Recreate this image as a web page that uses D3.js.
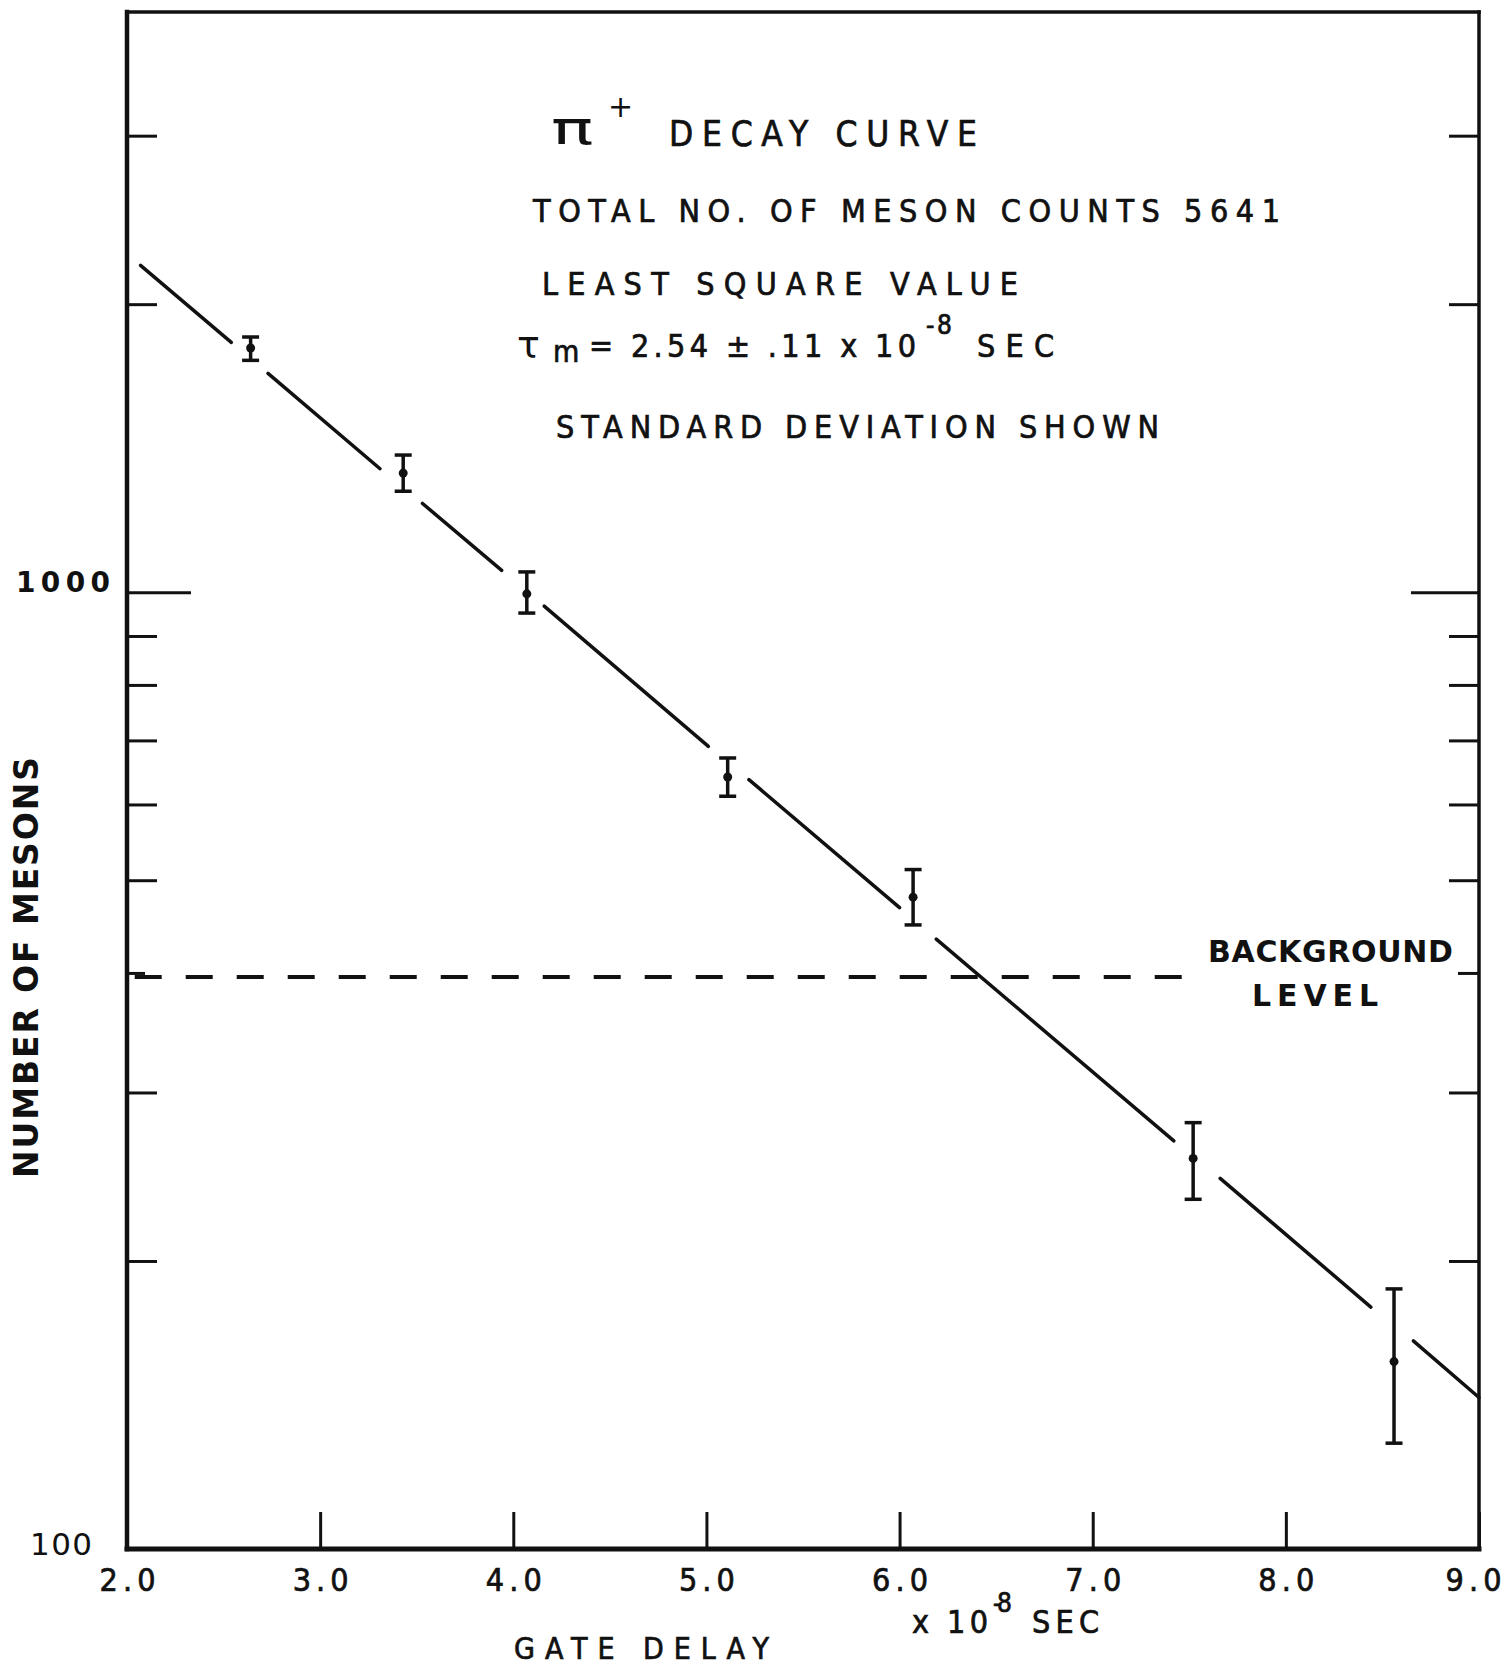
<!DOCTYPE html>
<html>
<head>
<meta charset="UTF-8">
<title>π+ decay curve</title>
<script src="https://cdn.jsdelivr.net/npm/d3@7"></script>
<style>
  body { margin: 0; background: #fff; }
</style>
</head>
<body>
<script>
    // gate delay (x 10^-8 sec) and meson counts
    var gateDelay = [2.64, 3.43, 4.07, 5.11, 6.07, 7.52, 8.56];
    var mesonCounts = [1800, 1332, 996, 641, 480, 256, 157];
    var countLow = [1747, 1275, 951, 612, 449, 232, 129];
    var countHigh = [1848, 1391, 1050, 671, 513, 279, 187];

    // least square line, broken around every point
    var fitDelay = [[2.07, 2.54], [2.73, 3.31], [3.53, 3.94], [4.16, 5.01], [5.22, 6.00], [6.19, 7.42], [7.66, 8.44], [8.66, 9.0]];
    var fitCount = [[2196, 1824], [1693, 1346], [1238, 1054], [967, 690], [637, 468], [434, 267], [244, 179], [165, 144]];

    var backgroundLevel = 396;
    var backgroundDelay = [2.04, 7.55];

    var xTicks = [2, 3, 4, 5, 6, 7, 8, 9];
    var yTicks = [200, 300, 400, 500, 600, 700, 800, 900, 1000, 2000, 3000];

    var width = 1505,
        height = 1668,
        ink = "#111",
        letterFont = '"Liberation Sans Narrow", "DejaVu Sans Condensed", "Liberation Sans", sans-serif',
        roundFont = '"DejaVu Sans", sans-serif';

    var svg = d3.select("body").append("svg")
        .attr("width", width)
        .attr("height", height);

    svg.append("rect").attr("width", width).attr("height", height).style("fill", "#fff");

    var x = d3.scaleLinear().domain([2, 9]).range([127, 1479]);
    var y = d3.scaleLog().domain([100, 4040]).range([1549, 12]);

    // frame
    var frame = svg.append("g").style("stroke", ink).style("stroke-linecap", "square");
    frame.append("line").attr("x1", x(2)).attr("x2", x(2)).attr("y1", y.range()[1]).attr("y2", y(100)).style("stroke-width", 4.5);
    frame.append("line").attr("x1", x(2)).attr("x2", x(9)).attr("y1", y(100)).attr("y2", y(100)).style("stroke-width", 5);
    frame.append("line").attr("x1", x(9)).attr("x2", x(9)).attr("y1", y.range()[1]).attr("y2", y(100)).style("stroke-width", 3.5);
    frame.append("line").attr("x1", x(2)).attr("x2", x(9)).attr("y1", y.range()[1]).attr("y2", y.range()[1]).style("stroke-width", 3.5);

    function tickLen(d, side) {
        if (d === 1000) return side === "left" ? 64 : 68;
        if (d === 400) return side === "left" ? 18 : 21;
        return 30;
    }

    // y ticks, both sides, pointing inward
    var leftAxis = svg.append("g")
        .attr("transform", "translate(" + x(2) + ",0)")
        .call(d3.axisLeft(y).tickValues(yTicks).tickSize(-30).tickFormat(""));
    leftAxis.select(".domain").remove();
    leftAxis.selectAll(".tick line")
        .attr("x2", function(d) { return tickLen(d, "left"); })
        .style("stroke", ink).style("stroke-width", 3);

    var rightAxis = svg.append("g")
        .attr("transform", "translate(" + x(9) + ",0)")
        .call(d3.axisRight(y).tickValues(yTicks).tickSize(-30).tickFormat(""));
    rightAxis.select(".domain").remove();
    rightAxis.selectAll(".tick line")
        .attr("x2", function(d) { return -tickLen(d, "right"); })
        .style("stroke", ink).style("stroke-width", 3);

    // x ticks
    var bottomAxis = svg.append("g")
        .attr("transform", "translate(0," + y(100) + ")")
        .call(d3.axisBottom(x).tickValues(xTicks).tickSize(-37).tickPadding(19).tickFormat(d3.format(".1f")));
    bottomAxis.select(".domain").remove();
    bottomAxis.selectAll(".tick line").style("stroke", ink).style("stroke-width", 3);
    bottomAxis.selectAll(".tick text")
        .attr("x", function(d) { return d === 9 ? -6 : 0; })
        .style("font-family", letterFont)
        .style("font-size", "32px")
        .style("fill", ink)
        .style("stroke", ink).style("stroke-width", 0.7)
        .attr("textLength", 56)
        .attr("lengthAdjust", "spacing");

    // background level
    svg.append("line")
        .attr("x1", x(backgroundDelay[0])).attr("x2", x(backgroundDelay[1]))
        .attr("y1", y(backgroundLevel)).attr("y2", y(backgroundLevel))
        .style("stroke", ink).style("stroke-width", 4)
        .style("stroke-dasharray", "27 24");

    // fit line pieces
    var line = d3.line()
        .x(function(d) { return x(d[0]); })
        .y(function(d) { return y(d[1]); });

    svg.append("g").selectAll("path")
        .data(fitDelay.map(function(t, i) { return [[t[0], fitCount[i][0]], [t[1], fitCount[i][1]]]; }))
        .enter().append("path")
        .attr("d", line)
        .style("fill", "none").style("stroke", ink)
        .style("stroke-width", 3.5).style("stroke-linecap", "round");

    // points with standard deviation
    var pts = svg.append("g").selectAll("g")
        .data(gateDelay.map(function(t, i) {
            return { t: t, n: mesonCounts[i], lo: countLow[i], hi: countHigh[i] };
        }))
        .enter().append("g")
        .style("stroke", ink);

    pts.append("line")
        .attr("x1", function(d) { return x(d.t); }).attr("x2", function(d) { return x(d.t); })
        .attr("y1", function(d) { return y(d.hi); }).attr("y2", function(d) { return y(d.lo); })
        .style("stroke-width", 3.5);
    pts.append("line")
        .attr("x1", function(d) { return x(d.t) - 8.5; }).attr("x2", function(d) { return x(d.t) + 8.5; })
        .attr("y1", function(d) { return y(d.hi); }).attr("y2", function(d) { return y(d.hi); })
        .style("stroke-width", 3.5);
    pts.append("line")
        .attr("x1", function(d) { return x(d.t) - 8.5; }).attr("x2", function(d) { return x(d.t) + 8.5; })
        .attr("y1", function(d) { return y(d.lo); }).attr("y2", function(d) { return y(d.lo); })
        .style("stroke-width", 3.5);
    pts.append("circle")
        .attr("cx", function(d) { return x(d.t); })
        .attr("cy", function(d) { return y(d.n); })
        .attr("r", 4.5)
        .style("fill", ink).style("stroke", "none");

    // lettering
    function label(txt, px, py, size, len, font, weight) {
        var t = svg.append("text")
            .attr("x", px).attr("y", py)
            .style("font-family", font || letterFont)
            .style("font-size", size + "px")
            .style("font-weight", weight || "normal")
            .style("fill", ink)
            .text(txt);
        if (!font) t.style("stroke", ink).style("stroke-width", 0.7);
        if (len) t.attr("textLength", len).attr("lengthAdjust", "spacing");
        return t;
    }

    svg.append("text")
        .attr("transform", "translate(551,144) scale(1.6,1.05)")
        .style("font-family", roundFont).style("font-size", "44px").style("fill", ink)
        .text("π");
    label("+", 608, 117, 30, null, roundFont);
    label("DECAY CURVE", 669, 146, 35, 308);
    label("TOTAL NO. OF MESON COUNTS 5641", 533, 222, 32, 747);
    label("LEAST SQUARE VALUE", 542, 295, 32, 476);
    label("τ", 517, 358, 38, null, roundFont);
    label("m", 553, 362, 30, 23);
    label("= 2.54 ± .11 x 10", 589, 357, 32, 327);
    label("-8", 926, 334, 26, 26);
    label("SEC", 977, 357, 32, 77);
    label("STANDARD DEVIATION SHOWN", 556, 438, 32, 603);

    label("BACKGROUND", 1208, 962, 30, 245, roundFont, "bold");
    label("LEVEL", 1252, 1006, 30, 126, roundFont, "bold");

    label("1000", 16, y(1000), 28, 94, roundFont, "bold");
    label("100", 30, y(100) + 6, 31, 62, roundFont);

    svg.append("text")
        .attr("transform", "translate(38,1178) rotate(-90)")
        .attr("textLength", 421).attr("lengthAdjust", "spacing")
        .style("font-family", roundFont).style("font-size", "33px")
        .style("font-weight", "bold").style("fill", ink)
        .text("NUMBER OF MESONS");

    label("x 10", 912, 1633, 32, 76);
    label("-8", 993, 1612, 26, 19);
    label("SEC", 1032, 1633, 32, 67);
    label("GATE DELAY", 514, 1659, 30, 255);
</script>
</body>
</html>
